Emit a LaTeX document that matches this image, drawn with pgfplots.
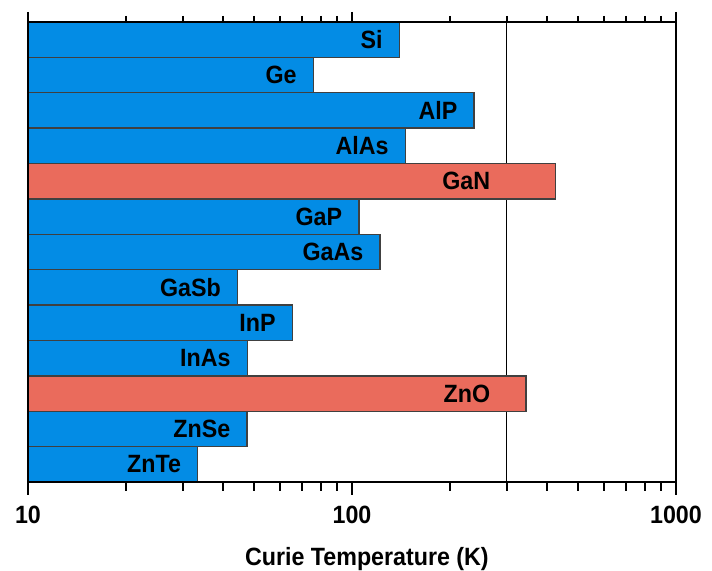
\documentclass[border=0pt]{standalone}
\usepackage{pgfplots}
\usepackage{pgfplotstable}
\pgfplotsset{compat=1.18}
\usepackage{fontspec}
\setmainfont{Liberation Sans}[FakeStretch=0.93]
\definecolor{barblue}{RGB}{3,140,229}
\definecolor{barred}{RGB}{234,107,92}

\pgfplotstableread{
y val label
12 140 Si
11 76 Ge
10 238 AlP
9 146 AlAs
7 105 GaP
6 122 GaAs
5 44.3 GaSb
4 65.4 InP
3 47.5 InAs
1 47.4 ZnSe
0 33.4 ZnTe
}\bluedata

\pgfplotstableread{
y val lx label
8 425 300 GaN
2 344 300 ZnO
}\reddata

\begin{document}
\begin{tikzpicture}
\begin{axis}[
  name=main,
  scale only axis, width=324pt, height=230pt,
  xmode=log, xmin=10, xmax=1000, log origin x=infty,
  ymin=-0.5, ymax=12.5, ytick=\empty,
  xtick={10,100,1000}, xticklabels={10,100,1000},
  minor xtick={20,30,40,50,60,70,80,90,200,300,400,500,600,700,800,900},
  xtick pos=bottom, tick align=outside,
  major tick length=6.5pt, minor tick length=4.5pt,
  xtick style={black, line width=1pt},
  axis line style={line width=1.2pt},
  axis on top,
  tick label style={font=\bfseries\fontsize{12.5}{14}\selectfont},
  xticklabel style={yshift=-2pt},
  xlabel={Curie Temperature (K)},
  xlabel style={font=\bfseries\fontsize{12.5}{14}\selectfont, at={(axis description cs:0.523,0)}, anchor=north, yshift=-29pt},
  bar width=1,
  every node near coord/.append style={anchor=east, xshift=-8pt, inner sep=0pt, font=\bfseries\fontsize{12.5}{14}\selectfont, text=black},
]
\addplot[black, line width=0.7pt, forget plot] coordinates {(300,-0.5) (300,12.5)};
\addplot[xbar, bar shift=0pt, fill=barblue, draw=black!75, line width=0.7pt, nodes near coords, point meta=explicit symbolic] table[x=val, y=y, meta=label] {\bluedata};
\addplot[xbar, bar shift=0pt, fill=barred, draw=black!75, line width=0.7pt] table[x=val, y=y] {\reddata};
\addplot[draw=none, mark=none, nodes near coords, point meta=explicit symbolic] table[x=lx, y=y, meta=label] {\reddata};
\coordinate (SW) at (rel axis cs:0,0);
\coordinate (NE) at (rel axis cs:1,1);
\end{axis}
\begin{axis}[
  scale only axis, width=324pt, height=230pt,
  at={(main.south west)}, anchor=south west,
  xmode=log, xmin=10, xmax=1000, ymin=0, ymax=1, ytick=\empty,
  xtick={10,100,1000}, xticklabels={},
  minor xtick={20,30,40,50,60,70,80,90,200,300,400,500,600,700,800,900},
  xtick pos=top, tick align=outside,
  major tick length=5pt, minor tick length=3pt,
  xtick style={black, line width=1pt},
  axis line style={line width=1.2pt},
]
\end{axis}
\pgfresetboundingbox
\path[use as bounding box] ([shift={(-14pt,-44.5pt)}]SW) rectangle ([shift={(18pt,11pt)}]NE);
\end{tikzpicture}
\end{document}
